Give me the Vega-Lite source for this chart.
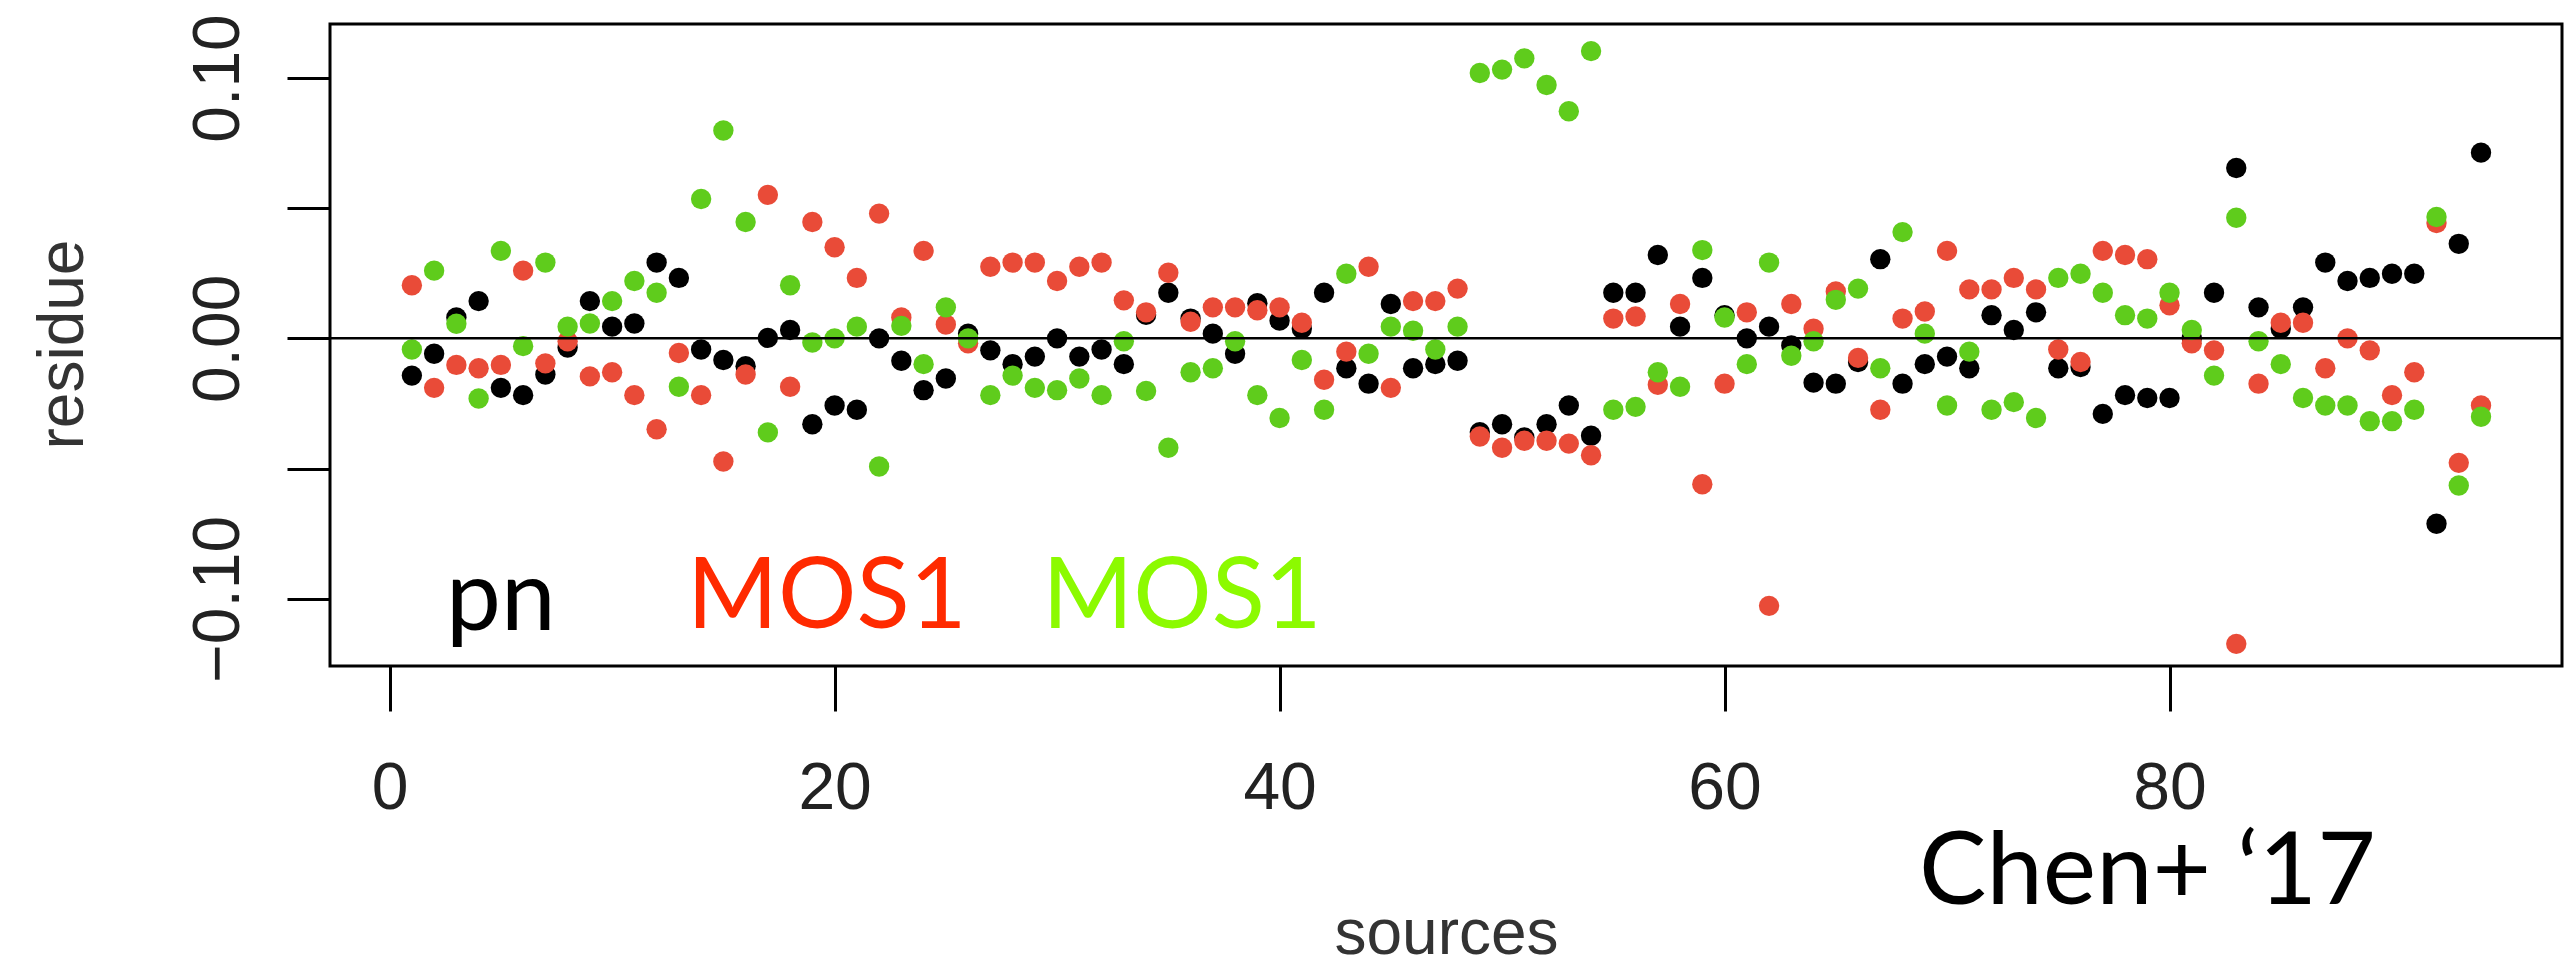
{
  "$schema": "https://vega.github.io/schema/vega-lite/v6.json",
  "width": 2232,
  "height": 642,
  "autosize": {"type": "none"},
  "padding": {"left": 330, "top": 24, "right": 10, "bottom": 300},
  "background": "white",
  "config": {"view": {"stroke": "#000", "strokeWidth": 3}, "font": "Liberation Sans"},
  "data": {"values": [{}]},
  "datasets": {
    "pts": [
      {"s":1,"det":"pn","r":-0.0143},{"s":2,"det":"pn","r":-0.0059},{"s":3,"det":"pn","r":0.0080},{"s":4,"det":"pn","r":0.0143},{"s":5,"det":"pn","r":-0.0190},{"s":6,"det":"pn","r":-0.0218},{"s":7,"det":"pn","r":-0.0139},{"s":8,"det":"pn","r":-0.0035},{"s":9,"det":"pn","r":0.0143},{"s":10,"det":"pn","r":0.0045},
      {"s":11,"det":"pn","r":0.0057},{"s":12,"det":"pn","r":0.0291},{"s":13,"det":"pn","r":0.0232},{"s":14,"det":"pn","r":-0.0043},{"s":15,"det":"pn","r":-0.0083},{"s":16,"det":"pn","r":-0.0107},{"s":17,"det":"pn","r":0.0002},{"s":18,"det":"pn","r":0.0032},{"s":19,"det":"pn","r":-0.0330},{"s":20,"det":"pn","r":-0.0258},
      {"s":21,"det":"pn","r":-0.0274},{"s":22,"det":"pn","r":0.0000},{"s":23,"det":"pn","r":-0.0086},{"s":24,"det":"pn","r":-0.0199},{"s":25,"det":"pn","r":-0.0154},{"s":26,"det":"pn","r":0.0018},{"s":27,"det":"pn","r":-0.0046},{"s":28,"det":"pn","r":-0.0099},{"s":29,"det":"pn","r":-0.0070},{"s":30,"det":"pn","r":0.0000},
      {"s":31,"det":"pn","r":-0.0070},{"s":32,"det":"pn","r":-0.0043},{"s":33,"det":"pn","r":-0.0099},{"s":34,"det":"pn","r":0.0090},{"s":35,"det":"pn","r":0.0175},{"s":36,"det":"pn","r":0.0076},{"s":37,"det":"pn","r":0.0018},{"s":38,"det":"pn","r":-0.0059},{"s":39,"det":"pn","r":0.0135},{"s":40,"det":"pn","r":0.0068},
      {"s":41,"det":"pn","r":0.0037},{"s":42,"det":"pn","r":0.0175},{"s":43,"det":"pn","r":-0.0115},{"s":44,"det":"pn","r":-0.0174},{"s":45,"det":"pn","r":0.0132},{"s":46,"det":"pn","r":-0.0115},{"s":47,"det":"pn","r":-0.0099},{"s":48,"det":"pn","r":-0.0086},{"s":49,"det":"pn","r":-0.0360},{"s":50,"det":"pn","r":-0.0330},
      {"s":51,"det":"pn","r":-0.0380},{"s":52,"det":"pn","r":-0.0330},{"s":53,"det":"pn","r":-0.0258},{"s":54,"det":"pn","r":-0.0374},{"s":55,"det":"pn","r":0.0175},{"s":56,"det":"pn","r":0.0175},{"s":57,"det":"pn","r":0.0320},{"s":58,"det":"pn","r":0.0045},{"s":59,"det":"pn","r":0.0232},{"s":60,"det":"pn","r":0.0089},
      {"s":61,"det":"pn","r":0.0000},{"s":62,"det":"pn","r":0.0045},{"s":63,"det":"pn","r":-0.0027},{"s":64,"det":"pn","r":-0.0170},{"s":65,"det":"pn","r":-0.0174},{"s":66,"det":"pn","r":-0.0091},{"s":67,"det":"pn","r":0.0304},{"s":68,"det":"pn","r":-0.0174},{"s":69,"det":"pn","r":-0.0099},{"s":70,"det":"pn","r":-0.0070},
      {"s":71,"det":"pn","r":-0.0115},{"s":72,"det":"pn","r":0.0089},{"s":73,"det":"pn","r":0.0032},{"s":74,"det":"pn","r":0.0100},{"s":75,"det":"pn","r":-0.0115},{"s":76,"det":"pn","r":-0.0110},{"s":77,"det":"pn","r":-0.0290},{"s":78,"det":"pn","r":-0.0218},{"s":79,"det":"pn","r":-0.0229},{"s":80,"det":"pn","r":-0.0229},
      {"s":81,"det":"pn","r":0.0000},{"s":82,"det":"pn","r":0.0175},{"s":83,"det":"pn","r":0.0654},{"s":84,"det":"pn","r":0.0119},{"s":85,"det":"pn","r":0.0037},{"s":86,"det":"pn","r":0.0119},{"s":87,"det":"pn","r":0.0291},{"s":88,"det":"pn","r":0.0220},{"s":89,"det":"pn","r":0.0232},{"s":90,"det":"pn","r":0.0248},
      {"s":91,"det":"pn","r":0.0248},{"s":92,"det":"pn","r":-0.0712},{"s":93,"det":"pn","r":0.0363},{"s":94,"det":"pn","r":0.0713},

      {"s":1,"det":"MOS1","r":0.0204},{"s":2,"det":"MOS1","r":-0.0190},{"s":3,"det":"MOS1","r":-0.0102},{"s":4,"det":"MOS1","r":-0.0115},{"s":5,"det":"MOS1","r":-0.0102},{"s":6,"det":"MOS1","r":0.0260},{"s":7,"det":"MOS1","r":-0.0096},{"s":8,"det":"MOS1","r":-0.0011},{"s":9,"det":"MOS1","r":-0.0146},{"s":10,"det":"MOS1","r":-0.0130},
      {"s":11,"det":"MOS1","r":-0.0218},{"s":12,"det":"MOS1","r":-0.0349},{"s":13,"det":"MOS1","r":-0.0056},{"s":14,"det":"MOS1","r":-0.0218},{"s":15,"det":"MOS1","r":-0.0473},{"s":16,"det":"MOS1","r":-0.0139},{"s":17,"det":"MOS1","r":0.0551},{"s":18,"det":"MOS1","r":-0.0186},{"s":19,"det":"MOS1","r":0.0447},{"s":20,"det":"MOS1","r":0.0350},
      {"s":21,"det":"MOS1","r":0.0232},{"s":22,"det":"MOS1","r":0.0479},{"s":23,"det":"MOS1","r":0.0080},{"s":24,"det":"MOS1","r":0.0336},{"s":25,"det":"MOS1","r":0.0053},{"s":26,"det":"MOS1","r":-0.0019},{"s":27,"det":"MOS1","r":0.0275},{"s":28,"det":"MOS1","r":0.0291},{"s":29,"det":"MOS1","r":0.0291},{"s":30,"det":"MOS1","r":0.0220},
      {"s":31,"det":"MOS1","r":0.0275},{"s":32,"det":"MOS1","r":0.0291},{"s":33,"det":"MOS1","r":0.0146},{"s":34,"det":"MOS1","r":0.0100},{"s":35,"det":"MOS1","r":0.0252},{"s":36,"det":"MOS1","r":0.0064},{"s":37,"det":"MOS1","r":0.0119},{"s":38,"det":"MOS1","r":0.0119},{"s":39,"det":"MOS1","r":0.0108},{"s":40,"det":"MOS1","r":0.0119},
      {"s":41,"det":"MOS1","r":0.0060},{"s":42,"det":"MOS1","r":-0.0159},{"s":43,"det":"MOS1","r":-0.0051},{"s":44,"det":"MOS1","r":0.0275},{"s":45,"det":"MOS1","r":-0.0190},{"s":46,"det":"MOS1","r":0.0143},{"s":47,"det":"MOS1","r":0.0143},{"s":48,"det":"MOS1","r":0.0191},{"s":49,"det":"MOS1","r":-0.0377},{"s":50,"det":"MOS1","r":-0.0420},
      {"s":51,"det":"MOS1","r":-0.0393},{"s":52,"det":"MOS1","r":-0.0393},{"s":53,"det":"MOS1","r":-0.0404},{"s":54,"det":"MOS1","r":-0.0449},{"s":55,"det":"MOS1","r":0.0076},{"s":56,"det":"MOS1","r":0.0084},{"s":57,"det":"MOS1","r":-0.0178},{"s":58,"det":"MOS1","r":0.0132},{"s":59,"det":"MOS1","r":-0.0560},{"s":60,"det":"MOS1","r":-0.0174},
      {"s":61,"det":"MOS1","r":0.0100},{"s":62,"det":"MOS1","r":-0.1027},{"s":63,"det":"MOS1","r":0.0132},{"s":64,"det":"MOS1","r":0.0037},{"s":65,"det":"MOS1","r":0.0180},{"s":66,"det":"MOS1","r":-0.0075},{"s":67,"det":"MOS1","r":-0.0274},{"s":68,"det":"MOS1","r":0.0076},{"s":69,"det":"MOS1","r":0.0103},{"s":70,"det":"MOS1","r":0.0336},
      {"s":71,"det":"MOS1","r":0.0188},{"s":72,"det":"MOS1","r":0.0188},{"s":73,"det":"MOS1","r":0.0232},{"s":74,"det":"MOS1","r":0.0188},{"s":75,"det":"MOS1","r":-0.0043},{"s":76,"det":"MOS1","r":-0.0091},{"s":77,"det":"MOS1","r":0.0336},{"s":78,"det":"MOS1","r":0.0320},{"s":79,"det":"MOS1","r":0.0304},{"s":80,"det":"MOS1","r":0.0127},
      {"s":81,"det":"MOS1","r":-0.0019},{"s":82,"det":"MOS1","r":-0.0046},{"s":83,"det":"MOS1","r":-0.1173},{"s":84,"det":"MOS1","r":-0.0174},{"s":85,"det":"MOS1","r":0.0060},{"s":86,"det":"MOS1","r":0.0060},{"s":87,"det":"MOS1","r":-0.0115},{"s":88,"det":"MOS1","r":0.0000},{"s":89,"det":"MOS1","r":-0.0046},{"s":90,"det":"MOS1","r":-0.0218},
      {"s":91,"det":"MOS1","r":-0.0130},{"s":92,"det":"MOS1","r":0.0443},{"s":93,"det":"MOS1","r":-0.0478},{"s":94,"det":"MOS1","r":-0.0258},

      {"s":1,"det":"MOS2","r":-0.0043},{"s":2,"det":"MOS2","r":0.0260},{"s":3,"det":"MOS2","r":0.0056},{"s":4,"det":"MOS2","r":-0.0231},{"s":5,"det":"MOS2","r":0.0336},{"s":6,"det":"MOS2","r":-0.0030},{"s":7,"det":"MOS2","r":0.0291},{"s":8,"det":"MOS2","r":0.0045},{"s":9,"det":"MOS2","r":0.0057},{"s":10,"det":"MOS2","r":0.0143},
      {"s":11,"det":"MOS2","r":0.0220},{"s":12,"det":"MOS2","r":0.0175},{"s":13,"det":"MOS2","r":-0.0186},{"s":14,"det":"MOS2","r":0.0535},{"s":15,"det":"MOS2","r":0.0798},{"s":16,"det":"MOS2","r":0.0447},{"s":17,"det":"MOS2","r":-0.0361},{"s":18,"det":"MOS2","r":0.0204},{"s":19,"det":"MOS2","r":-0.0016},{"s":20,"det":"MOS2","r":0.0000},
      {"s":21,"det":"MOS2","r":0.0045},{"s":22,"det":"MOS2","r":-0.0492},{"s":23,"det":"MOS2","r":0.0048},{"s":24,"det":"MOS2","r":-0.0099},{"s":25,"det":"MOS2","r":0.0119},{"s":26,"det":"MOS2","r":0.0000},{"s":27,"det":"MOS2","r":-0.0218},{"s":28,"det":"MOS2","r":-0.0143},{"s":29,"det":"MOS2","r":-0.0190},{"s":30,"det":"MOS2","r":-0.0199},
      {"s":31,"det":"MOS2","r":-0.0154},{"s":32,"det":"MOS2","r":-0.0218},{"s":33,"det":"MOS2","r":-0.0011},{"s":34,"det":"MOS2","r":-0.0202},{"s":35,"det":"MOS2","r":-0.0420},{"s":36,"det":"MOS2","r":-0.0130},{"s":37,"det":"MOS2","r":-0.0115},{"s":38,"det":"MOS2","r":-0.0011},{"s":39,"det":"MOS2","r":-0.0218},{"s":40,"det":"MOS2","r":-0.0306},
      {"s":41,"det":"MOS2","r":-0.0083},{"s":42,"det":"MOS2","r":-0.0274},{"s":43,"det":"MOS2","r":0.0248},{"s":44,"det":"MOS2","r":-0.0059},{"s":45,"det":"MOS2","r":0.0045},{"s":46,"det":"MOS2","r":0.0029},{"s":47,"det":"MOS2","r":-0.0043},{"s":48,"det":"MOS2","r":0.0045},{"s":49,"det":"MOS2","r":0.1019},{"s":50,"det":"MOS2","r":0.1032},
      {"s":51,"det":"MOS2","r":0.1075},{"s":52,"det":"MOS2","r":0.0973},{"s":53,"det":"MOS2","r":0.0872},{"s":54,"det":"MOS2","r":0.1103},{"s":55,"det":"MOS2","r":-0.0274},{"s":56,"det":"MOS2","r":-0.0263},{"s":57,"det":"MOS2","r":-0.0130},{"s":58,"det":"MOS2","r":-0.0186},{"s":59,"det":"MOS2","r":0.0339},{"s":60,"det":"MOS2","r":0.0080},
      {"s":61,"det":"MOS2","r":-0.0099},{"s":62,"det":"MOS2","r":0.0291},{"s":63,"det":"MOS2","r":-0.0067},{"s":64,"det":"MOS2","r":-0.0011},{"s":65,"det":"MOS2","r":0.0148},{"s":66,"det":"MOS2","r":0.0191},{"s":67,"det":"MOS2","r":-0.0115},{"s":68,"det":"MOS2","r":0.0408},{"s":69,"det":"MOS2","r":0.0018},{"s":70,"det":"MOS2","r":-0.0258},
      {"s":71,"det":"MOS2","r":-0.0051},{"s":72,"det":"MOS2","r":-0.0274},{"s":73,"det":"MOS2","r":-0.0245},{"s":74,"det":"MOS2","r":-0.0306},{"s":75,"det":"MOS2","r":0.0232},{"s":76,"det":"MOS2","r":0.0248},{"s":77,"det":"MOS2","r":0.0175},{"s":78,"det":"MOS2","r":0.0089},{"s":79,"det":"MOS2","r":0.0076},{"s":80,"det":"MOS2","r":0.0175},
      {"s":81,"det":"MOS2","r":0.0032},{"s":82,"det":"MOS2","r":-0.0143},{"s":83,"det":"MOS2","r":0.0463},{"s":84,"det":"MOS2","r":-0.0011},{"s":85,"det":"MOS2","r":-0.0099},{"s":86,"det":"MOS2","r":-0.0229},{"s":87,"det":"MOS2","r":-0.0258},{"s":88,"det":"MOS2","r":-0.0258},{"s":89,"det":"MOS2","r":-0.0318},{"s":90,"det":"MOS2","r":-0.0318},
      {"s":91,"det":"MOS2","r":-0.0274},{"s":92,"det":"MOS2","r":0.0466},{"s":93,"det":"MOS2","r":-0.0565},{"s":94,"det":"MOS2","r":-0.0301}
    ]
  },
  "layer": [
    {
      "data": {"name": "pts"},
      "mark": {"type": "circle", "opacity": 1, "size": 415},
      "encoding": {
        "x": {
          "field": "s", "type": "quantitative",
          "scale": {"domain": [-2.68, 97.64], "nice": false, "zero": false},
          "axis": {
            "values": [0, 20, 40, 60, 80], "format": "d",
            "title": "sources", "titleFont": "Liberation Sans", "titleFontSize": 64, "titleFontWeight": "normal", "titleColor": "#333",
            "titleBaseline": "alphabetic", "titleAlign": "center", "titleX": 1116, "titleY": 287,
            "labelFont": "Liberation Sans", "labelFontSize": 66, "labelColor": "#222", "labelBaseline": "alphabetic", "labelAlign": "center",
            "labelPadding": 97, "labelOverlap": false, "labelFlush": false,
            "tickSize": 45, "tickWidth": 3, "tickColor": "#000", "domain": false, "grid": false
          }
        },
        "y": {
          "field": "r", "type": "quantitative",
          "scale": {"domain": [-0.1258, 0.1207], "nice": false, "zero": false},
          "axis": {
            "values": [-0.1, -0.05, 0, 0.05, 0.1],
            "labelExpr": "abs(datum.value) < 0.001 || abs(abs(datum.value) - 0.1) < 0.001 ? format(datum.value, '.2f') : ''",
            "title": "residue", "titleFont": "Liberation Sans", "titleFontSize": 64, "titleFontWeight": "normal", "titleColor": "#333",
            "titleAngle": -90, "titleBaseline": "alphabetic", "titleAlign": "center", "titleX": -248, "titleY": 320,
            "labelFont": "Liberation Sans", "labelFontSize": 66, "labelColor": "#222", "labelAngle": -90, "labelAlign": "center", "labelBaseline": "alphabetic",
            "labelPadding": 49, "labelOverlap": false, "labelFlush": false,
            "tickSize": 43, "tickWidth": 3, "tickColor": "#000", "domain": false, "grid": false
          }
        },
        "color": {
          "field": "det", "type": "nominal",
          "scale": {"domain": ["pn", "MOS1", "MOS2"], "range": ["#000000", "#E94B38", "#5FCC1C"]},
          "legend": null
        }
      }
    },
    {
      "mark": {"type": "rule", "color": "#000", "strokeWidth": 2.5},
      "encoding": {
        "y": {"datum": 0, "type": "quantitative"}
      }
    },
    {
      "mark": {"type": "text", "text": "pn", "font": "Lato", "fontSize": 98, "align": "center", "baseline": "alphabetic", "color": "#000000"},
      "encoding": {
        "x": {"datum": 5.0, "type": "quantitative"},
        "y": {"datum": -0.1118, "type": "quantitative"}
      }
    },
    {
      "mark": {"type": "text", "text": "MOS1", "font": "Lato", "fontSize": 98, "align": "left", "baseline": "alphabetic", "color": "#FF2A00"},
      "encoding": {
        "x": {"datum": 13.37, "type": "quantitative"},
        "y": {"datum": -0.1114, "type": "quantitative"}
      }
    },
    {
      "mark": {"type": "text", "text": "MOS1", "font": "Lato", "fontSize": 98, "align": "left", "baseline": "alphabetic", "color": "#8CFA00"},
      "encoding": {
        "x": {"datum": 29.33, "type": "quantitative"},
        "y": {"datum": -0.1114, "type": "quantitative"}
      }
    },
    {
      "mark": {"type": "text", "text": "Chen+ ‘17", "font": "Lato", "fontSize": 101, "align": "left", "baseline": "alphabetic", "color": "#000000"},
      "encoding": {
        "x": {"datum": 68.74, "type": "quantitative"},
        "y": {"datum": -0.2172, "type": "quantitative"}
      }
    }
  ]
}
